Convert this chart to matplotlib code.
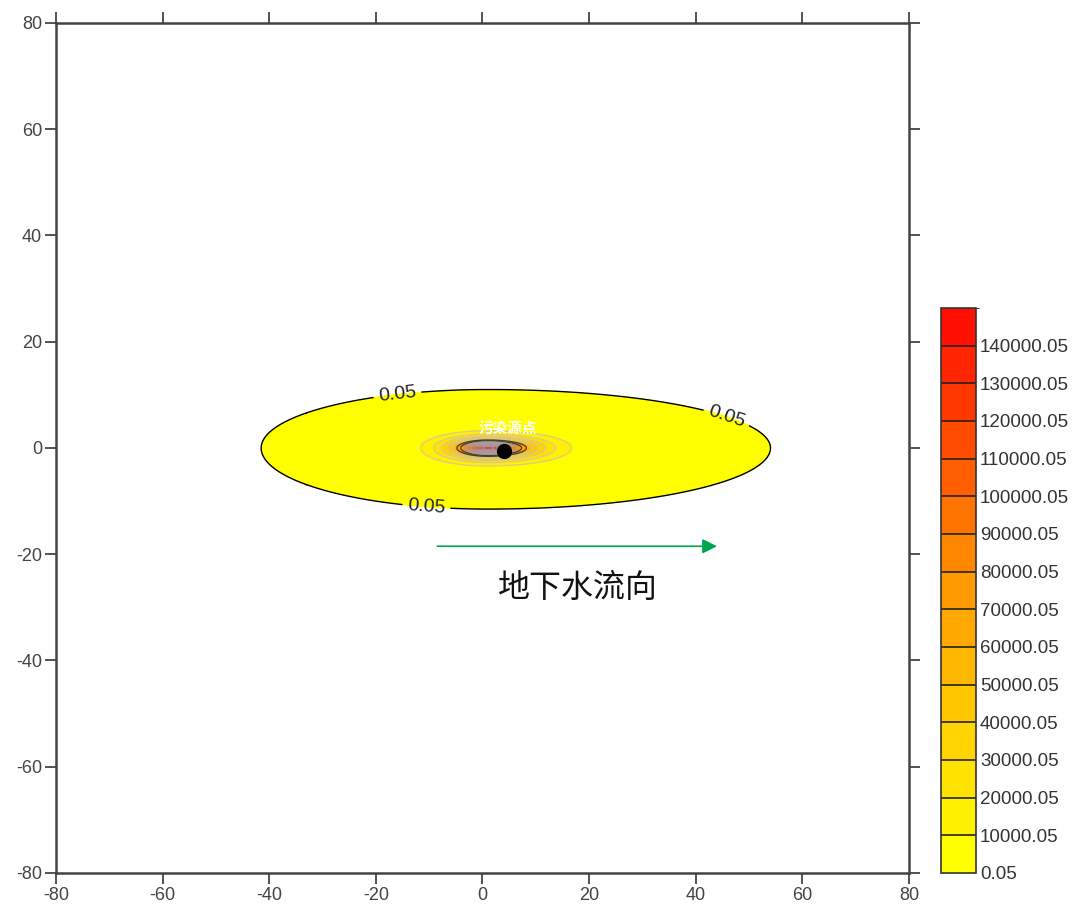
import numpy as np
import matplotlib
matplotlib.use("Agg")
import matplotlib.pyplot as plt
from matplotlib.colors import LinearSegmentedColormap, BoundaryNorm

plt.rcParams['font.family'] = ['Liberation Sans', 'Noto Sans CJK SC']
plt.rcParams['axes.unicode_minus'] = False

# concentration levels (mg/L) shown on the colour bar
levels = [0.05 + 10000 * i for i in range(16)]
tick_levels = levels[:15]

# plume geometry: peak location, extents of the 0.05 contour, decay shape
peak_conc = 150000.0
peak_x, peak_y = 1.0, 0.0
reach_left, reach_right = 42.5, 53.0
reach_up, reach_down = 11.0, 11.5
shape_q = 1.4

source_x, source_y = 4.0, -0.5
flow_start = (-9.0, -18.5)
flow_end = (44.5, -18.5)

# concentration field on a grid
x = np.linspace(-80, 80, 1601)
y = np.linspace(-80, 80, 1601)
X, Y = np.meshgrid(x, y)
ax_len = np.where(X < peak_x, reach_left, reach_right)
ay_len = np.where(Y > peak_y, reach_up, reach_down)
r = np.sqrt(((X - peak_x) / ax_len) ** 2 + ((Y - peak_y) / ay_len) ** 2)
k = np.log(peak_conc / 0.05)
C = peak_conc * np.exp(-k * r ** shape_q)

cmap = LinearSegmentedColormap.from_list('plume', ['#FFFF00', '#FF9A00', '#FF1000'])
norm = BoundaryNorm(levels, cmap.N)

fig = plt.figure(figsize=(10.74, 9.05), dpi=100)
ax = fig.add_axes([0.052, 0.0354, 0.7945, 0.9392])

cf = ax.contourf(X, Y, C, levels=levels, cmap=cmap, norm=norm)
line_colors = ['#d6c79c'] * 5 + ['#303030'] * 2 + ['#a0a0b0'] * 7
ax.contour(X, Y, C, levels=levels[1:], colors=line_colors, linewidths=1.0, alpha=0.85)
edge = ax.contour(X, Y, C, levels=[0.05], colors='black', linewidths=1.0)
ax.clabel(edge, fmt='%.2f', fontsize=14, inline=True, colors='#202020',
          manual=[(-16, 10.5), (-10.5, -10.7), (46, 6.5)])

ax.plot(source_x, source_y, 'o', color='black', markersize=10)
ax.text(source_x + 0.8, 3.7, '污染源点', color='white', fontsize=10.5, fontweight='bold',
        ha='center', va='center')

ax.annotate('', xy=flow_end, xytext=flow_start,
            arrowprops=dict(arrowstyle='-|>', color='#00a550', lw=1.2, mutation_scale=22))
ax.text(17.9, -26.5, '地下水流向', fontsize=23, ha='center', va='center', color='#111111')

ax.set_xlim(-80, 80)
ax.set_ylim(-80, 80)
ticks = np.arange(-80, 81, 20)
ax.set_xticks(ticks)
ax.set_yticks(ticks)
ax.tick_params(direction='out', length=8, width=1.3, colors='#444444', labelsize=13,
               top=True, right=True, labelcolor='#444444', pad=2)
for s in ax.spines.values():
    s.set_linewidth(1.8)
    s.set_color('#444444')

cax = fig.add_axes([0.876, 0.0354, 0.0326, 0.6243])
cb = fig.colorbar(cf, cax=cax, ticks=tick_levels, drawedges=True)
cb.ax.set_yticklabels(['%.2f' % v for v in tick_levels])
cb.ax.tick_params(length=0, labelsize=13.5, labelcolor='#333333', pad=3)
cb.outline.set_linewidth(1.2)
cb.outline.set_edgecolor('#333333')
cb.dividers.set_color('#222222')
cb.dividers.set_linewidth(1.2)

fig.savefig('out.png', dpi=100)
